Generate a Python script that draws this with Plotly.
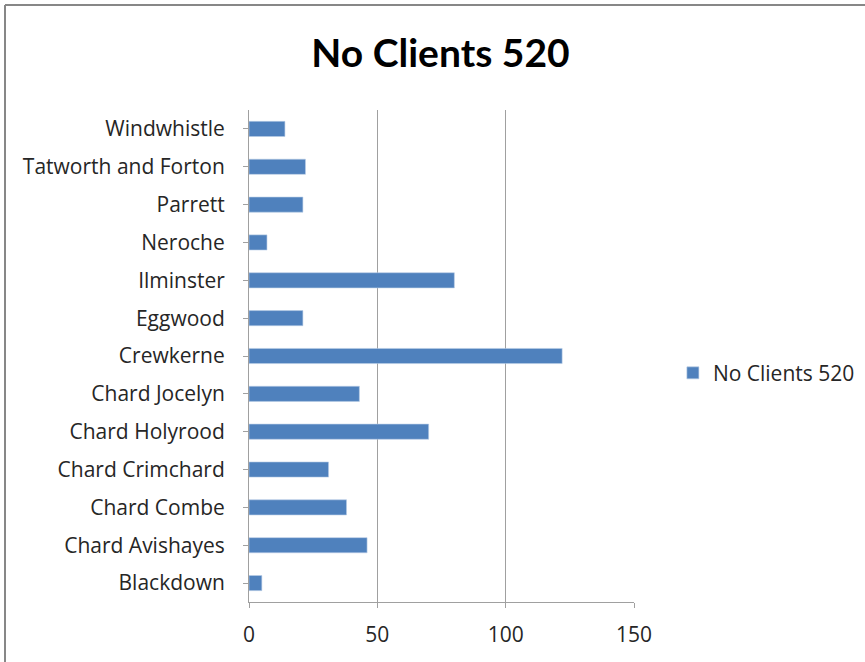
import plotly.graph_objects as go

categories = ["Blackdown", "Chard Avishayes", "Chard Combe", "Chard Crimchard",
              "Chard Holyrood", "Chard Jocelyn", "Crewkerne", "Eggwood",
              "Ilminster", "Neroche", "Parrett", "Tatworth and Forton", "Windwhistle"]
values = [5, 46, 38, 31, 70, 43, 122, 21, 80, 7, 21, 22, 14]
series_name = "No Clients 520"
x_ticks = [0, 50, 100, 150]

FONT = "Open Sans"
TITLE_FONT = "Lato"
GRID = "#A0A0A0"
TXT = "#262626"
FS = 21

fig = go.Figure()
fig.add_trace(go.Bar(
    y=categories, x=values, orientation="h", name=series_name,
    marker=dict(color="#4F81BD", line=dict(color="#B9CDE5", width=0.6)),
    width=0.4, showlegend=True,
))

fig.update_layout(
    width=865, height=662,
    margin=dict(l=249, r=231, t=110, b=60, autoexpand=False),
    paper_bgcolor="white", plot_bgcolor="white",
    font=dict(family=FONT, size=FS, color=TXT),
    title=dict(text="<b>No Clients 520</b>", x=440.5 / 865, xanchor="center",
               y=1 - 53 / 662, yanchor="middle", yref="container",
               font=dict(family=TITLE_FONT, size=39, color="black")),
    showlegend=True,
    legend=dict(x=1.101, y=0.465, xanchor="left", yanchor="middle",
                font=dict(family=FONT, size=FS, color=TXT),
                bgcolor="rgba(0,0,0,0)", itemwidth=30),
    bargap=0.6,
    xaxis=dict(range=[0, 150], tickvals=x_ticks, showgrid=True, gridcolor=GRID,
               gridwidth=1, zeroline=False, showline=True, linecolor=GRID,
               linewidth=1, ticks="outside", ticklen=5, tickcolor=GRID,
               tickfont=dict(family=FONT, size=FS, color=TXT),
               ticklabelstandoff=9, fixedrange=True),
    yaxis=dict(showgrid=False, zeroline=False, showline=True, linecolor=GRID,
               linewidth=1, ticks="outside", ticklen=5, tickcolor=GRID,
               tickfont=dict(family=FONT, size=FS, color=TXT),
               ticklabelstandoff=14, fixedrange=True),
    shapes=[
        dict(type="line", xref="paper", yref="paper",
             x0=(5 - 249) / 385, x1=(870 - 249) / 385,
             y0=(602 - 5) / 492, y1=(602 - 5) / 492,
             line=dict(color="#878787", width=2)),
        dict(type="line", xref="paper", yref="paper",
             x0=(5 - 249) / 385, x1=(5 - 249) / 385,
             y0=(602 - 5) / 492, y1=(602 - 670) / 492,
             line=dict(color="#878787", width=2)),
    ],
)

fig.write_html("out.html")
